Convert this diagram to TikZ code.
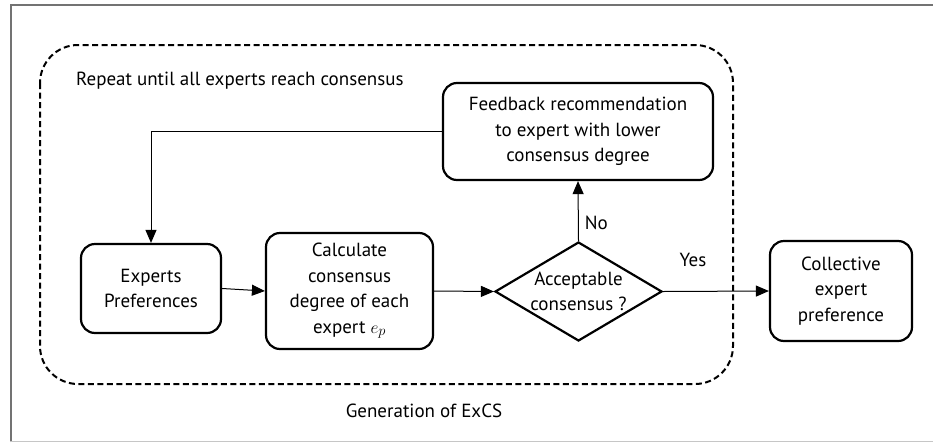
\documentclass[tikz,border=0pt]{standalone}
\usepackage{fontspec}
\setmainfont{PT Sans}
\usetikzlibrary{shapes.geometric,arrows.meta}
\begin{document}
\begin{tikzpicture}[x=1pt,y=-1pt,
  every node/.style={font=\fontsize{19}{25.5}\selectfont},
  procbox/.style={draw,line width=2.2pt,rounded corners=14pt,align=center,inner sep=0pt},
  decision/.style={draw,diamond,aspect=1.69,line width=2.2pt,align=center,inner sep=-3pt},
  flow/.style={line width=1pt,-{Triangle[length=13pt,width=11pt]}},
  label/.style={inner sep=0pt}]
\useasboundingbox (0,0) rectangle (933,442);
% page frame
\draw[line width=2pt,gray!90!black] (10.5,442) -- (10.5,5) -- (933,5);
\draw[line width=1pt,gray!45] (10,441.5) -- (933,441.5);
% iteration loop container
\draw[line width=2pt,dash pattern=on 6pt off 3.5pt,rounded corners=38pt]
  (40,45) rectangle (733,384);
\node[label,anchor=west] (rep) at (76,81) {Repeat until all experts reach consensus};
\node[label] (gen) at (424,411) {Generation of ExCS};
% process steps
\node[procbox,minimum width=140pt,minimum height=89pt] (exp) at (151,288.5) {Experts\\Preferences};
\node[procbox,minimum width=167pt,minimum height=116pt] (calc) at (349.5,291) {Calculate\\consensus\\degree of each\\expert $e_p$};
\node[decision,minimum width=167pt,minimum height=99pt] (dia) at (578.5,291.5) {Acceptable\\consensus ?};
\node[procbox,minimum width=270pt,minimum height=97pt] (fb) at (578,131.5) {Feedback recommendation\\to expert with lower\\consensus degree};
\node[procbox,minimum width=142pt,minimum height=100pt] (col) at (841,291) {Collective\\expert\\preference};
% connectors
\draw[flow] (exp.east) -- (calc.west);
\draw[flow] (calc.east) -- (dia.west);
\draw[flow] (dia.north) -- node[label,right=6pt,pos=0.3] (no) {No} (fb.south);
\draw[flow] (dia.east) -- (col.west);
\node[label] (yes) at (693,260) {Yes};
\draw[flow] (fb.west) -- (exp.north |- fb.west) -- (exp.north);
\end{tikzpicture}
\end{document}
